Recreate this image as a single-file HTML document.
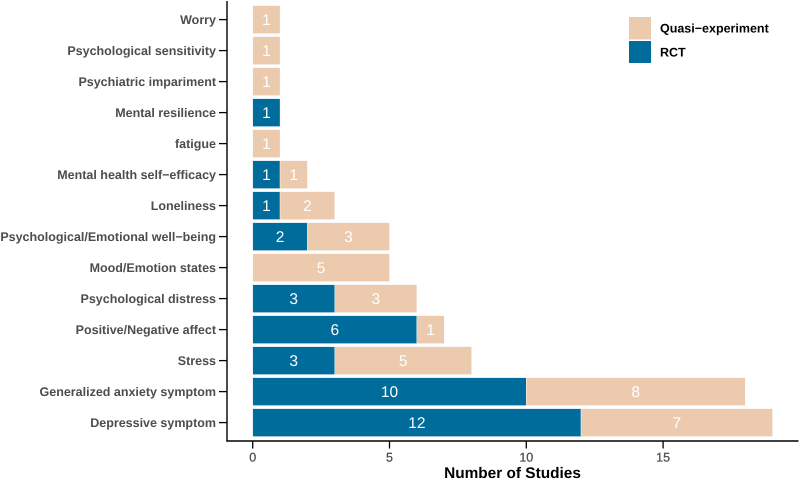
<!DOCTYPE html>
<html>
<head>
<meta charset="utf-8">
<style>
html,body{margin:0;padding:0;background:#fff;width:800px;height:480px;overflow:hidden}
svg{display:block;font-family:"Liberation Sans",Arial,sans-serif;text-rendering:geometricPrecision}
</style>
</head>
<body>
<svg id="chart" xmlns="http://www.w3.org/2000/svg" width="800" height="480" viewBox="0 0 800 480">
  <rect x="0" y="0" width="800" height="480" fill="#ffffff"/>
  <g id="bars"></g>
  <g id="yticks"></g>
  <g id="xticks"></g>
  <line x1="227" y1="1" x2="227" y2="441.5" stroke="#000" stroke-width="1.4"/>
  <line x1="226.3" y1="441" x2="798.5" y2="441" stroke="#000" stroke-width="1.4"/>
  <text x="512.5" y="478" text-anchor="middle" font-size="15.4" font-weight="bold" fill="#000">Number of Studies</text>
  <g>
    <rect x="629" y="17" width="22" height="22.5" fill="#EBCAAE"/>
    <rect x="629" y="41" width="22" height="22" fill="#006C9B"/>
    <text x="660" y="32.5" font-size="12.5" font-weight="bold" fill="#000">Quasi−experiment</text>
    <text x="660" y="56.5" font-size="12.5" font-weight="bold" fill="#000">RCT</text>
  </g>
</svg>
<script>
const categories = ["Worry","Psychological sensitivity","Psychiatric impariment","Mental resilience","fatigue","Mental health self−efficacy","Loneliness","Psychological/Emotional well−being","Mood/Emotion states","Psychological distress","Positive/Negative affect","Stress","Generalized anxiety symptom","Depressive symptom"];
const rctValues = [0,0,0,1,0,1,1,2,0,3,6,3,10,12];
const quasiValues = [1,1,1,0,1,1,2,3,5,3,1,5,8,7];
const xTickValues = [0,5,10,15];

const NS = "http://www.w3.org/2000/svg";
const xZero = 252.7, xUnit = 27.36;
const yFirst = 19.6, yStep = 31.0, barHeight = 27.9;
function xScale(v){ return xZero + v * xUnit; }
function yScale(i){ return yFirst + i * yStep; }
function make(tag, attrs, parent){
  const el = document.createElementNS(NS, tag);
  for (const k in attrs) el.setAttribute(k, attrs[k]);
  parent.appendChild(el);
  return el;
}
const barsG = document.getElementById("bars");
const yG = document.getElementById("yticks");
const xG = document.getElementById("xticks");

function segment(i, start, value, color, kind){
  if (value <= 0) return;
  const x0 = xScale(start), x1 = xScale(start + value), cy = yScale(i);
  const r = make("rect", {x:x0, y:cy - barHeight/2, width:x1 - x0, height:barHeight, fill:color, stroke:"#f7fbfd", "stroke-width":0.4}, barsG);
  
  
  r.setAttribute('data-series', kind);
  const t = make("text", {x:(x0 + x1)/2, y:cy + 5.6, "text-anchor":"middle", "font-size":15.5, fill:"#ffffff"}, barsG);
  
  
  t.textContent = value;
}

categories.forEach(function(name, i){
  const cy = yScale(i);
  segment(i, 0, rctValues[i], "#006C9B", "rct");
  segment(i, rctValues[i], quasiValues[i], "#EBCAAE", "quasi");
  const tick = make("line", {x1:219, x2:227, y1:cy, y2:cy, stroke:"#000", "stroke-width":1.3}, yG);
  
  
  const label = make("text", {x:216, y:cy + 4.4, "text-anchor":"end", "font-size":12.5, "font-weight":"bold", fill:"#4d4d4d"}, yG);
  
  
  label.textContent = name;
});

xTickValues.forEach(function(v){
  const x = xScale(v);
  const tick = make("line", {x1:x, x2:x, y1:441, y2:448.5, stroke:"#000", "stroke-width":1.3}, xG);
  
  
  const label = make("text", {x:x, y:461.6, "text-anchor":"middle", "font-size":12.5, fill:"#4d4d4d", stroke:"#4d4d4d", "stroke-width":0.25}, xG);
  
  
  label.textContent = v;
});
</script>
</body>
</html>
